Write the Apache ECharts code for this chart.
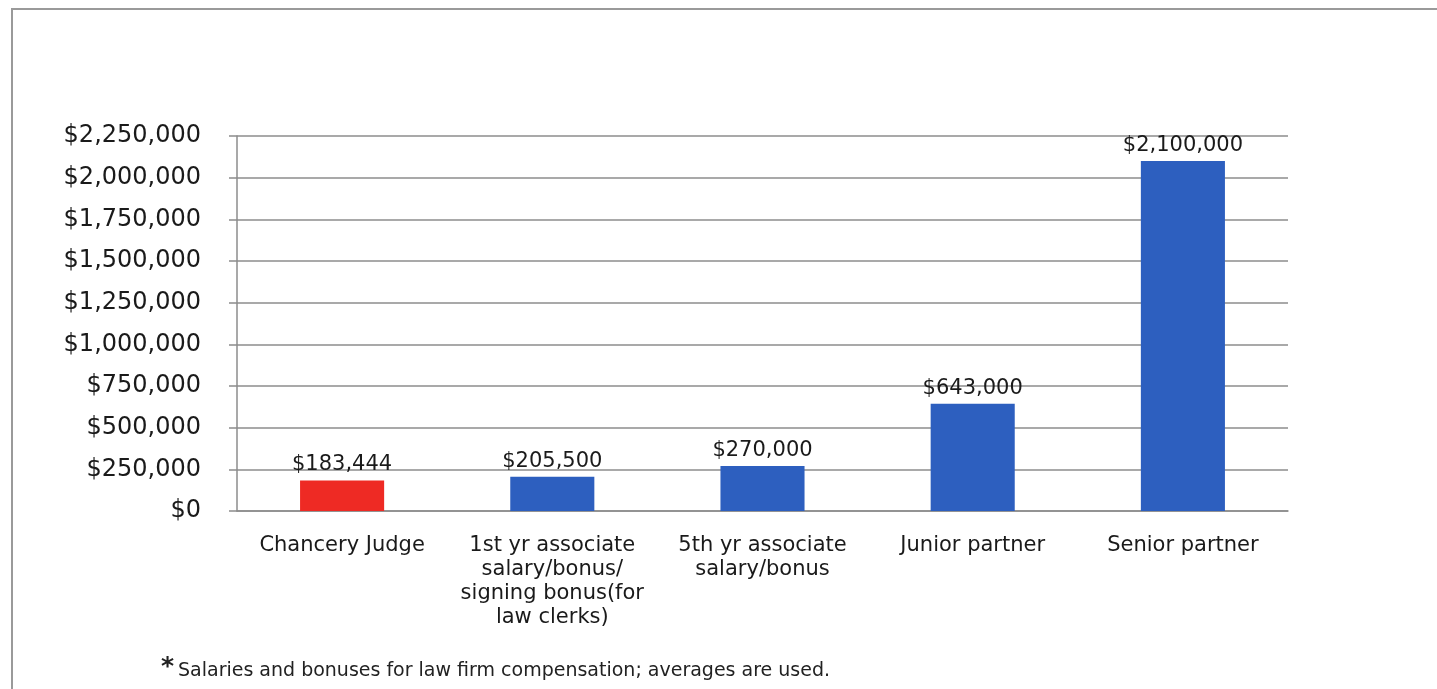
<!DOCTYPE html>
<html>
<head>
<meta charset="utf-8">
<script src="https://cdn.jsdelivr.net/npm/echarts@6/dist/echarts.min.js"></script>
<style>
 html, body { margin: 0; padding: 0; background: #fff; }
 #chart { width: 1437px; height: 689px; }
</style>
</head>
<body>
<div id="chart"></div>
<script>
var categories = ['Chancery Judge', '1st yr associate\nsalary/bonus/\nsigning bonus(for\nlaw clerks)', '5th yr associate\nsalary/bonus', 'Junior partner', 'Senior partner'];
var pay = [183444, 205500, 270000, 643000, 2100000];
var barColors = ['#ee2a24', '#2d5fbf', '#2d5fbf', '#2d5fbf', '#2d5fbf'];
var footnote = 'Salaries and bonuses for law firm compensation; averages are used.';

function money(v) {
    return '$' + String(v).replace(/\B(?=(\d{3})+(?!\d))/g, ',');
}

var chart = echarts.init(document.getElementById('chart'));

var option = {
    backgroundColor: '#fff',
    animation: false,
    textStyle: { fontFamily: 'DejaVu Sans' },
    grid: { left: 237, right: 149, top: 136, bottom: 178 },
    graphic: [
        {
            type: 'rect',
            shape: { x: 12, y: 9, width: 1500, height: 720 },
            style: { fill: 'none', stroke: '#9a9a9a', lineWidth: 2 }
        },
        {
            type: 'text', left: 161, top: 655,
            style: { text: '*', font: 'bold 25px DejaVu Sans', fill: '#222' }
        },
        {
            type: 'text', left: 178, top: 662,
            style: { text: footnote, font: '19px DejaVu Sans', fill: '#222' }
        }
    ],
    xAxis: {
        type: 'category',
        data: categories,
        axisLine: { lineStyle: { color: '#8c8c8c', width: 1.5 } },
        axisTick: { length: 6, lineStyle: { color: '#8c8c8c', width: 1.5 } },
        axisLabel: { color: '#1a1a1a', fontSize: 21, lineHeight: 24, margin: 23, interval: 0 }
    },
    yAxis: {
        type: 'value',
        min: 0, max: 2250000, interval: 250000,
        axisLine: { show: true, lineStyle: { color: '#8c8c8c', width: 1.5 } },
        axisTick: { show: true, length: 8, lineStyle: { color: '#8c8c8c', width: 1.5 } },
        splitLine: { lineStyle: { color: '#8c8c8c', width: 1.5 } },
        axisLabel: { color: '#1a1a1a', fontSize: 24, margin: 36, formatter: money }
    },
    series: [{
        type: 'bar',
        barWidth: '40%',
        data: pay.map(function (v, i) {
            return { value: v, itemStyle: { color: barColors[i] } };
        }),
        label: {
            show: true, position: 'top', distance: 5,
            color: '#1a1a1a', fontSize: 21,
            formatter: function (p) { return money(p.value); }
        }
    }]
};

chart.setOption(option);
</script>
</body>
</html>
